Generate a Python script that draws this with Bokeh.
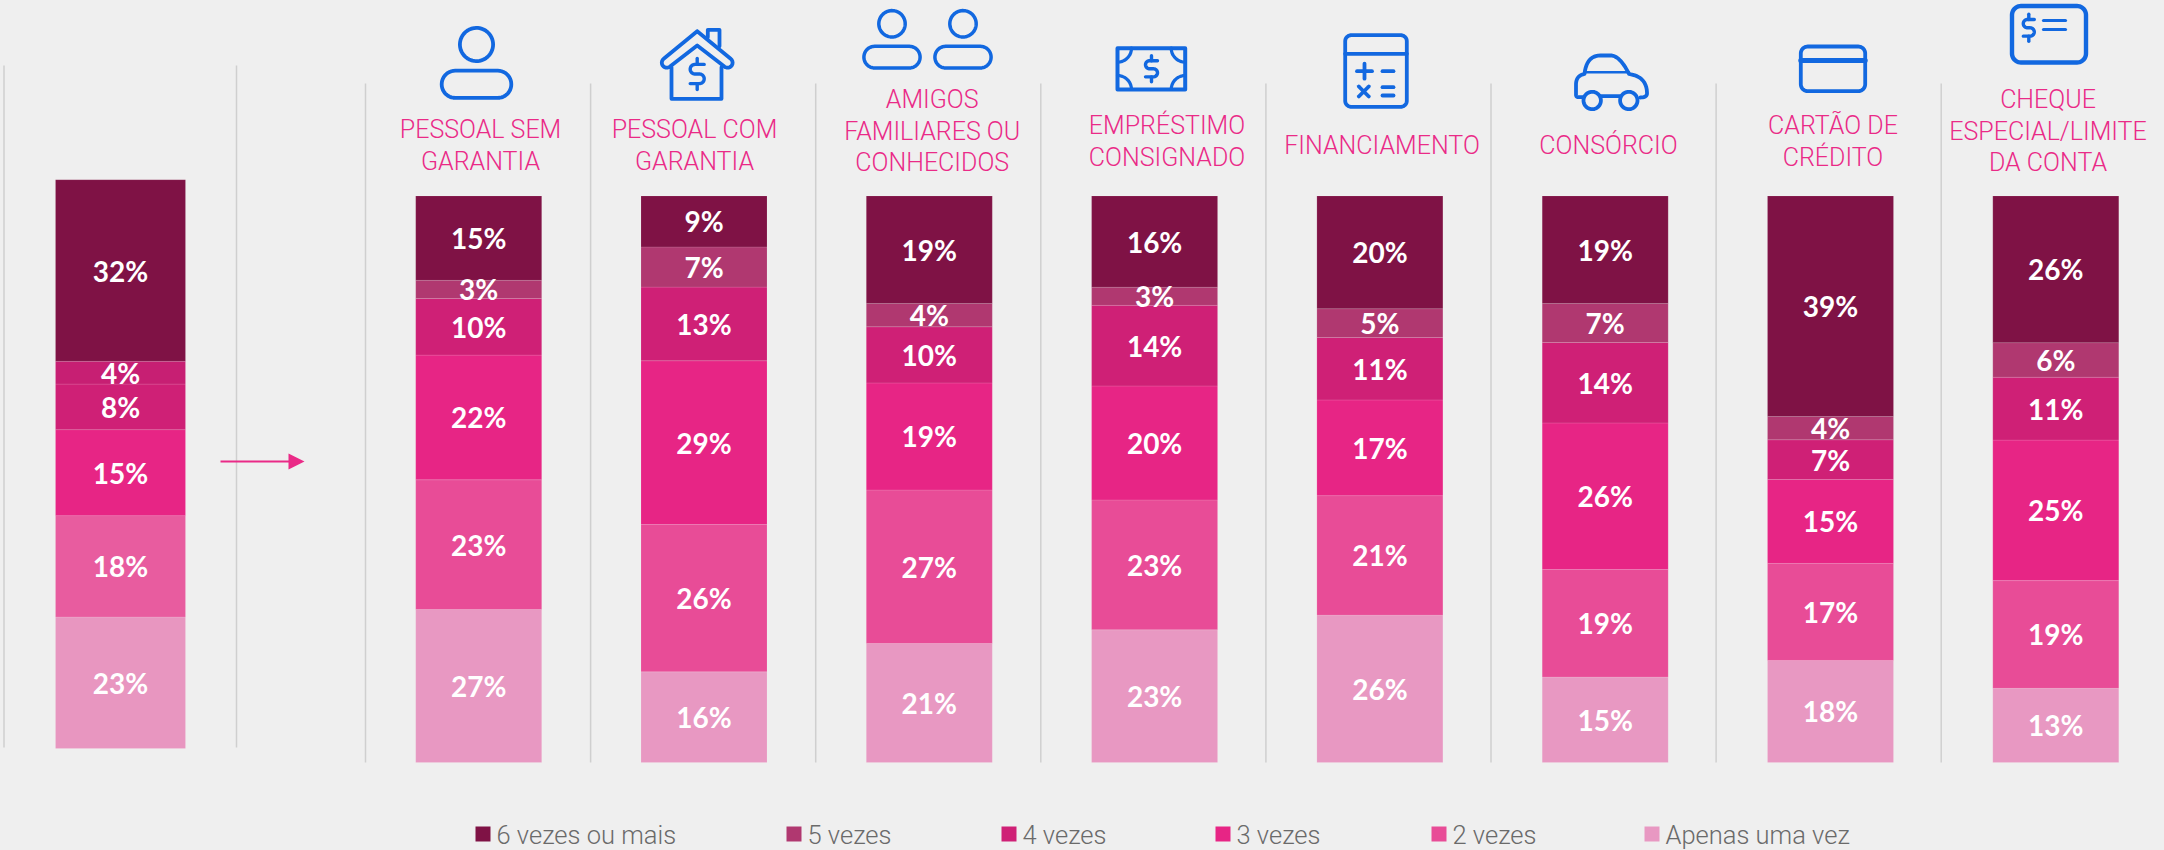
import numpy as np
from bokeh.core.properties import value
from bokeh.embed import file_html
from bokeh.models import ColumnDataSource, Range1d
from bokeh.plotting import figure
from bokeh.resources import INLINE

# ---------- data ----------
legend_labels = ["6 vezes ou mais", "5 vezes", "4 vezes", "3 vezes", "2 vezes", "Apenas uma vez"]
titles = [
    ["PESSOAL SEM", "GARANTIA"],
    ["PESSOAL COM", "GARANTIA"],
    ["AMIGOS", "FAMILIARES OU", "CONHECIDOS"],
    ["EMPRÉSTIMO", "CONSIGNADO"],
    ["FINANCIAMENTO"],
    ["CONSÓRCIO"],
    ["CARTÃO DE", "CRÉDITO"],
    ["CHEQUE", "ESPECIAL/LIMITE", "DA CONTA"],
]
# first element of each list: the overall bar, then one per credit type (top of stack first)
seis_ou_mais = [31.9, 14.9, 9.0, 19.0, 16.1, 19.9, 19.0, 38.9, 25.9]
cinco_vezes = [4.0, 3.2, 7.1, 4.1, 3.2, 5.1, 6.9, 4.1, 6.1]
quatro_vezes = [8.0, 10.0, 13.0, 9.9, 14.2, 11.0, 14.2, 7.0, 11.1]
tres_vezes = [15.1, 22.0, 28.9, 18.9, 20.1, 16.9, 25.9, 14.8, 24.8]
duas_vezes = [17.8, 22.9, 26.0, 27.1, 22.9, 21.1, 19.0, 17.1, 19.0]
uma_vez = [23.1, 27.0, 16.0, 21.0, 23.4, 26.0, 15.1, 18.0, 13.1]
series = [seis_ou_mais, cinco_vezes, quatro_vezes, tres_vezes, duas_vezes, uma_vez]
series_names = ["s6", "s5", "s4", "s3", "s2", "s1"]

# ---------- style / layout ----------
W, H = 2164, 850
BG = "#efefef"
colors = ["#7f1245", "#b03870", "#cf2076", "#e72585", "#e84c97", "#e898c2"]
colors_total = ["#7f1245", "#c71f73", "#cf2076", "#e72585", "#e85c9f", "#e896c0"]
PINK, BLUE, GREY_L, GREY_T = "#ea2a87", "#1268e0", "#cfcfcf", "#6a6a6a"

BAR_C0, BAR_PITCH, BAR_W = 478.2, 225.3, 126
TOTAL_C, TOTAL_W = 120, 130
TOP, BOT = 195.4, 762.0
TOP_T, BOT_T = 179.2, 748.0


def pct_range(top, bot):
    k = (bot - top) / 100
    return (bot - H) / k, bot / k


lo, hi = pct_range(TOP, BOT)
lo_t, hi_t = pct_range(TOP_T, BOT_T)
p = figure(width=W, height=H, output_backend="svg", toolbar_location=None,
           x_axis_type=None, y_axis_type=None,
           x_range=Range1d(0, W), y_range=Range1d(lo, hi),
           min_border=0, min_border_left=0, min_border_right=0, min_border_top=0, min_border_bottom=0,
           background_fill_color=BG, border_fill_color=BG, outline_line_color=None)
p.grid.visible = False
p.extra_y_ranges = {"px": Range1d(H, 0), "total": Range1d(lo_t, hi_t)}


def shares(idx):
    """Stack from the bottom up, each bar normalised to 100%."""
    out = {}
    for name, s in zip(series_names, series):
        out[name] = [s[i] / sum(q[i] for q in series) * 100 for i in idx]
    return out


def draw_bars(xs, idx, width, palette, y_range_name):
    data = shares(idx)
    data["x"] = xs
    src = ColumnDataSource(data)
    p.vbar_stack(series_names[::-1], x="x", width=width, source=src, color=palette[::-1],
                 line_color="white", line_alpha=0.12, line_width=1, y_range_name=y_range_name)
    rows_x, rows_y, rows_t = [], [], []
    for j, (i, x) in enumerate(zip(idx, xs)):
        bottom = 0
        for name, s in zip(series_names[::-1], series[::-1]):
            h = data[name][j]
            rows_x.append(x)
            rows_y.append(bottom + h / 2)
            rows_t.append(f"{round(s[i])}%")
            bottom += h
    p.text(rows_x, rows_y, text=rows_t, text_color="white", text_font=value("Lato"), text_font_style="bold",
           text_font_size="28px", text_align="center", text_baseline="middle", y_range_name=y_range_name)


draw_bars([TOTAL_C], [0], TOTAL_W, colors_total, "total")
draw_bars([BAR_C0 + BAR_PITCH * i for i in range(8)], list(range(1, 9)), BAR_W, colors, "default")

# vertical rules
rule_x = [3.5, 236]
p.segment(rule_x, [65, 65], rule_x, [747, 747], line_color=GREY_L, line_width=1.5, y_range_name="px")
rule_x2 = [365 + 225.1 * i for i in range(8)]
p.segment(rule_x2, [83] * 8, rule_x2, [762] * 8, line_color=GREY_L, line_width=1.5, y_range_name="px")

# arrow
p.line([220, 290], [461, 461], line_color=PINK, line_width=2, y_range_name="px")
p.patch([288, 304, 288], [453, 461, 469], fill_color=PINK, line_color=None, y_range_name="px")

# titles
title_x = [480, 694, 931.7, 1166.5, 1381.5, 1608, 1832.5, 2047.5]
title_y0 = [128, 128, 98, 124, 144, 144, 124, 98]
tx, ty, tt = [], [], []
for x, y0, lines in zip(title_x, title_y0, titles):
    for k, line in enumerate(lines):
        tx.append(x)
        ty.append(y0 + k * 31.6)
        tt.append(line)
p.text(tx, ty, text=tt, text_color=PINK, text_font=value("Roboto Light"), text_font_size="25px",
       text_align="center", text_baseline="middle", y_offset=1, y_range_name="px")

# legend
leg_x = [475, 786, 1001, 1215, 1431, 1644]
p.rect([x + 7.5 for x in leg_x], [833.5] * 6, width=15, height=15, fill_color=colors, line_color=None,
       y_range_name="px")
p.text([x + 21 for x in leg_x], [833.5] * 6, text=legend_labels, text_color=GREY_T,
       text_font=value("Roboto Light"), text_font_size="25.5px", text_align="left", text_baseline="middle",
       y_offset=1, y_range_name="px")


# ---------- icons ----------
def arc(cx, cy, rx, ry, a0, a1, n=24):
    t = np.radians(np.linspace(a0, a1, n))
    return list(cx + rx * np.cos(t)), list(cy + ry * np.sin(t))


def stroke(xs, ys, w=3.8):
    p.line(xs, ys, line_color=BLUE, line_width=w, line_join="round", line_cap="round", y_range_name="px")


def circle(cx, cy, r, w=3.8):
    x, y = arc(cx, cy, r, r, 0, 360, 60)
    stroke(x, y, w)


def rrect(x0, y0, x1, y1, r, w=3.8):
    xs, ys = [], []
    for cx, cy, a0 in [(x1 - r, y0 + r, -90), (x1 - r, y1 - r, 0), (x0 + r, y1 - r, 90), (x0 + r, y0 + r, 180)]:
        ax, ay = arc(cx, cy, r, r, a0, a0 + 90, 12)
        xs += ax
        ys += ay
    stroke(xs + xs[:1], ys + ys[:1], w)


def dollar(cx, cy, w, h, sw=3.4):
    a = h * 0.31
    r = a / 2
    hw = w / 2
    xs, ys = [cx + hw], [cy - a]
    ax, ay = arc(cx - hw + r, cy - r, r, r, 270, 90)
    xs += ax
    ys += ay
    ax, ay = arc(cx + hw - r, cy + r, r, r, -90, 90)
    xs += ax
    ys += ay
    xs.append(cx - hw)
    ys.append(cy + a)
    stroke(xs, ys, sw)
    stroke([cx, cx], [cy - h / 2, cy - a], sw)
    stroke([cx, cx], [cy + a, cy + h / 2], sw)


def bez(p0, p1, p2, n=12):
    t = np.linspace(0, 1, n)
    x = (1 - t) ** 2 * p0[0] + 2 * t * (1 - t) * p1[0] + t ** 2 * p2[0]
    y = (1 - t) ** 2 * p0[1] + 2 * t * (1 - t) * p1[1] + t ** 2 * p2[1]
    return list(x), list(y)


# person
circle(476, 44, 16.6)
rrect(441.2, 70.2, 510.8, 97.4, 13.5)

# house
hx = 696.7
ax1, ay1 = arc(666.3, 62.2, 5, 5, 232, 50, 12)
rx1, ry1 = arc(727.1, 62.2, 5, 5, 130, -52, 12)
stroke([hx] + ax1 + [hx] + rx1 + [hx], [30.7] + ay1 + [45] + ry1 + [30.7])
stroke([707.3, 707.3, 719, 719], [36.7, 29.3, 29.3, 45.7])
stroke([671, 671, 721, 721], [66.7, 98.3, 98.3, 66.7])
dollar(hx, 73.5, 14, 31)

# two persons
for cx, x0, x1 in [(891.5, 863.4, 919.6), (962.5, 934.4, 990.6)]:
    circle(cx, 23.3, 13.2, 3.5)
    rrect(x0, 45.8, x1, 67.5, 10.8, 3.5)

# banknote
stroke([1117, 1184.7, 1184.7, 1117, 1117], [47.7, 47.7, 89, 89, 47.7], 4)
for cx, cy, a0 in [(1117, 47.7, 0), (1184.7, 47.7, 90), (1184.7, 89, 180), (1117, 89, 270)]:
    ax, ay = arc(cx, cy, 14, 14, a0, a0 + 90, 10)
    stroke(ax, ay, 3.2)
dollar(1151, 68.3, 12, 26)

# calculator
rrect(1344.7, 34.7, 1406.3, 106.3, 6)
stroke([1344.7, 1406.3], [53.3, 53.3])
stroke([1356.5, 1371.5], [70.7, 70.7])
stroke([1364, 1364], [63.2, 78.2])
stroke([1382, 1393], [70.7, 70.7])
stroke([1358.3, 1368.3], [86, 96])
stroke([1368.3, 1358.3], [86, 96])
stroke([1382, 1393], [86.7, 86.7])
stroke([1382, 1393], [95, 95])

# car
cx_, cy_ = [1583, 1578], [96.7, 96.7]
b1 = bez((1578, 96.7), (1575.5, 96.7), (1575.5, 94))
b2 = bez((1575.5, 84), (1575.5, 75), (1584, 73.5))
b3 = bez((1584, 73.5), (1586, 55), (1600, 55))
b4 = bez((1609, 55), (1619, 54), (1628.5, 73.5))
b5 = bez((1628.5, 73.5), (1646, 76), (1646.5, 92))
b6 = bez((1646.5, 92), (1647, 97), (1640, 97))
stroke(cx_ + b1[0] + b2[0] + b3[0] + b4[0] + b5[0] + b6[0], cy_ + b1[1] + b2[1] + b3[1] + b4[1] + b5[1] + b6[1])
stroke([1584, 1628.5], [71.7, 71.7], 2.6)
stroke([1600, 1619.5], [95.7, 95.7])
circle(1591.7, 100, 8.7)
circle(1628.3, 100, 8.7)

# credit card
rrect(1800.3, 46, 1864.7, 90.7, 7)
stroke([1800.3, 1864.7], [60, 60], 5)

# cheque
rrect(2011.5, 5.5, 2085.5, 62, 9, 4.4)
dollar(2028.3, 27.3, 11, 27)
stroke([2043, 2065], [20, 20], 3.2)
stroke([2043, 2065], [29, 29], 3.2)

page_css = "<style>html,body{margin:0;padding:0;overflow:hidden;background:" + BG + "}</style>"
open("out.html", "w").write(file_html(p, INLINE).replace("<head>", "<head>" + page_css, 1))
